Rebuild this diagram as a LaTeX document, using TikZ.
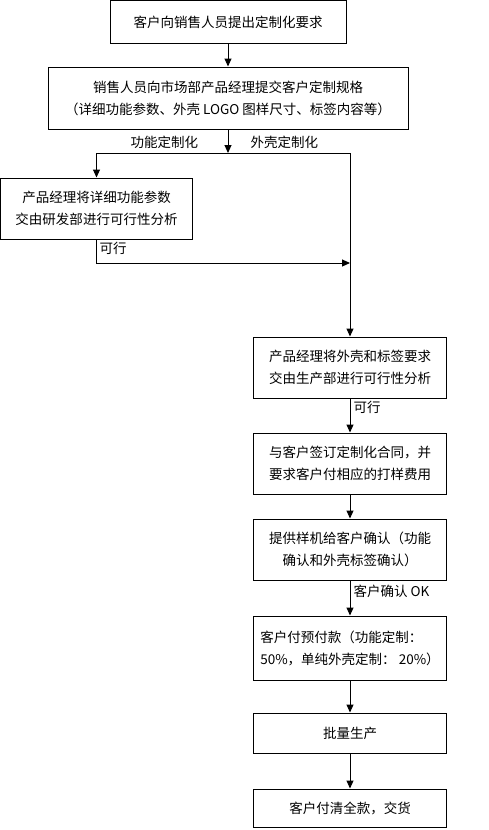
\documentclass[tikz,border=0pt]{standalone}
\usepackage{fontspec}
\usetikzlibrary{arrows.meta}
\newfontfamily\cjk{Noto Sans CJK SC}
\begin{document}
\begin{tikzpicture}[>={Stealth[length=8pt,width=7pt,inset=0pt]},x=1pt,y=-1pt,line width=1pt,
	every node/.style={font=\cjk\fontsize{13.5}{22}\selectfont},
	hop/.style={draw,align=center,inner sep=0pt},
	nhan/.style={inner sep=0pt,anchor=west}]
	\useasboundingbox (0,0) rectangle (488,830);
	\node[hop,minimum width=236pt,minimum height=43pt] (b1) at (228,22) {客户向销售人员提出定制化要求};
	\node[hop,minimum width=360pt,minimum height=62pt] (b2) at (228,98) {销售人员向市场部产品经理提交客户定制规格\\（详细功能参数、外壳 LOGO 图样尺寸、标签内容等）};
	\node[hop,minimum width=192pt,minimum height=61pt] (b3) at (96.5,208.5) {产品经理将详细功能参数\\交由研发部进行可行性分析};
	\node[hop,minimum width=193pt,minimum height=61pt] (b4) at (350,367.5) {产品经理将外壳和标签要求\\交由生产部进行可行性分析};
	\node[hop,minimum width=193pt,minimum height=61pt] (b5) at (350,463.5) {与客户签订定制化合同，并\\要求客户付相应的打样费用};
	\node[hop,minimum width=193pt,minimum height=61pt] (b6) at (350,549.5) {提供样机给客户确认（功能\\确认和外壳标签确认）};
	\node[hop,align=left,minimum width=193pt,minimum height=64pt] (b7) at (350,648) {客户付预付款（功能定制：\\50\%，单纯外壳定制： 20\%）};
	\node[hop,minimum width=193pt,minimum height=40pt] (b8) at (350,733) {批量生产};
	\node[hop,minimum width=193pt,minimum height=38pt] (b9) at (350,808) {客户付清全款，交货};
	% nhan tren cac nhanh
	\node[nhan] (l1) at (130,142) {功能定制化};
	\node[nhan] (l2) at (250,142) {外壳定制化};
	\node[nhan] (l3) at (99,248) {可行};
	\node[nhan] (l4) at (353,407) {可行};
	\node[nhan] (l5) at (353,591) {客户确认 OK};
	\coordinate (tach) at (228,153);
	\coordinate (gop) at (350,263);
	\draw[->] (b1.south) -- (b2.north);
	\draw[->] (b2.south) -- (tach);
	\draw[->] (tach) -| (b3.north); % nhanh trai
	\draw[->] (tach) -| (b4.north); % nhanh phai
	\draw[->] (b3.south) |- (gop);
	\draw[->] (b4.south) -- (b5.north);
	\draw[->] (b5.south) -- (b6.north);
	\draw[->] (b6.south) -- (b7.north);
	\draw[->] (b7.south) -- (b8.north);
	\draw[->] (b8.south) -- (b9.north);
\end{tikzpicture}
\end{document}
